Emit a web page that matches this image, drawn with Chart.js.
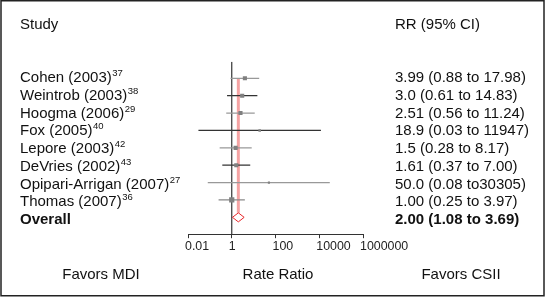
<!DOCTYPE html>
<html>
<head>
<meta charset="utf-8">
<script src="https://cdn.jsdelivr.net/npm/chart.js@4/dist/chart.umd.min.js"></script>
<style>
  html, body { margin: 0; padding: 0; background: #fff; }
  #forest { display: block; }
</style>
</head>
<body>
<canvas id="forest" width="545" height="297"></canvas>
<script>
// study data
const studies = ['Cohen (2003)', 'Weintrob (2003)', 'Hoogma (2006)', 'Fox (2005)',
  'Lepore (2003)', 'DeVries (2002)', 'Opipari-Arrigan (2007)', 'Thomas (2007)'];
const refs = ['37', '38', '29', '40', '42', '43', '27', '36'];
const rr = [3.99, 3.0, 2.51, 18.9, 1.5, 1.61, 50.0, 1.00];
const lower = [0.88, 0.61, 0.56, 0.03, 0.28, 0.37, 0.08, 0.25];
const upper = [17.98, 14.83, 11.24, 11947, 8.17, 7.00, 30305, 3.97];
const rrLabels = ['3.99 (0.88 to 17.98)', '3.0 (0.61 to 14.83)', '2.51 (0.56 to 11.24)',
  '18.9 (0.03 to 11947)', '1.5 (0.28 to 8.17)', '1.61 (0.37 to 7.00)',
  '50.0 (0.08 to30305)', '1.00 (0.25 to 3.97)'];
const overallRR = 2.00;
const overallLow = 1.08;
const overallHigh = 3.69;
const overallLabel = '2.00 (1.08 to 3.69)';
const tickValues = [0.01, 1, 100, 10000, 1000000];
const tickLabels = ['0.01', '1', '100', '10000', '1000000'];

// styling
const markerRadius = [2.9, 2.9, 2.9, 1.8, 2.9, 2.9, 1.5, 3.7];
const ciColors = ['#999', '#333', '#999', '#333', '#999', '#333', '#999', '#888'];
const FONT = '"Liberation Sans", Arial, sans-serif';
const overallRow = studies.length;

const datasets = [];

// null line at RR = 1
datasets.push({
  type: 'line',
  data: [{ x: 1, y: -0.95 }, { x: 1, y: 8.97 }],
  borderColor: '#333',
  borderWidth: 1.2,
  pointRadius: 0,
  order: 5,
});

// overall estimate line
datasets.push({
  type: 'line',
  data: [{ x: overallRR, y: 0 }, { x: overallRR, y: overallRow - 0.26 }],
  borderColor: '#f5a3a3',
  borderWidth: 3,
  pointRadius: 0,
  order: 4,
});

// confidence intervals
studies.forEach((s, i) => {
  datasets.push({
    type: 'line',
    data: [{ x: lower[i], y: i }, { x: upper[i], y: i }],
    borderColor: ciColors[i],
    borderWidth: 1.3,
    pointRadius: 0,
    order: 3,
  });
});

// point estimates
datasets.push({
  type: 'scatter',
  data: rr.map((v, i) => ({ x: v, y: i })),
  pointStyle: 'rect',
  pointRadius: markerRadius,
  backgroundColor: '#808080',
  borderColor: '#808080',
  borderWidth: 0,
  order: 2,
});

// overall diamond
datasets.push({
  type: 'line',
  data: [
    { x: overallLow, y: overallRow },
    { x: overallRR, y: overallRow - 0.26 },
    { x: overallHigh, y: overallRow },
    { x: overallRR, y: overallRow + 0.26 },
    { x: overallLow, y: overallRow },
  ],
  borderColor: '#e8262a',
  fill: false,
  borderWidth: 1,
  pointRadius: 0,
  tension: 0,
  order: 1,
});

const textPlugin = {
  id: 'forestText',
  afterDraw(chart) {
    const ctx = chart.ctx;
    const y = chart.scales.y;
    ctx.save();
    ctx.fillStyle = '#111';
    ctx.textBaseline = 'middle';
    ctx.textAlign = 'left';

    ctx.font = '15px ' + FONT;
    ctx.fillText('Study', 20, 25);
    ctx.fillText('RR (95% CI)', 395, 25);

    studies.forEach((s, i) => {
      const py = y.getPixelForValue(i) + 0.3 * i;
      ctx.font = '15px ' + FONT;
      ctx.fillText(s, 20, py);
      const w = ctx.measureText(s).width;
      ctx.font = '9.5px ' + FONT;
      ctx.fillText(refs[i], 20 + w + 0.5, py - 4.5);
      ctx.font = '15px ' + FONT;
      ctx.fillText(rrLabels[i], 395, py);
    });

    const oy = y.getPixelForValue(overallRow) + 0.3 * overallRow;
    ctx.font = 'bold 15px ' + FONT;
    ctx.fillText('Overall', 20, oy);
    ctx.fillText(overallLabel, 395, oy);

    ctx.font = '15px ' + FONT;
    ctx.textAlign = 'center';
    ctx.fillText('Favors MDI', 101, 275);
    ctx.fillText('Rate Ratio', 278, 275);
    ctx.fillText('Favors CSII', 461, 275);

    // frame
    ctx.strokeStyle = '#222';
    ctx.lineWidth = 1.5;
    ctx.strokeRect(1, 0.75, 543, 295);
    ctx.restore();
  },
};

new Chart(document.getElementById('forest'), {
  type: 'scatter',
  data: { datasets },
  options: {
    responsive: false,
    animation: false,
    devicePixelRatio: 1,
    layout: {
      padding: { left: 188, right: 182, top: 61.8, bottom: 41 },
    },
    plugins: {
      legend: { display: false },
      tooltip: { enabled: false },
    },
    scales: {
      x: {
        type: 'logarithmic',
        min: 0.01,
        max: 1000000,
        afterBuildTicks(scale) {
          scale.ticks = tickValues.map((v) => ({ value: v }));
        },
        afterFit(scale) {
          scale.height = 21.8;
        },
        grid: {
          display: true,
          drawOnChartArea: false,
          drawTicks: true,
          tickLength: 4,
          color: '#333',
        },
        border: { display: true, color: '#333', width: 1 },
        ticks: {
          align: 'start',
          labelOffset: -3,
          padding: 1,
          autoSkip: false,
          maxRotation: 0,
          minRotation: 0,
          color: '#222',
          font: { family: FONT, size: 12.4 },
          callback: (v, i) => tickLabels[i],
        },
      },
      y: {
        type: 'linear',
        min: -0.95,
        max: 8.97,
        reverse: true,
        display: false,
      },
    },
  },
  plugins: [textPlugin],
});
</script>
</body>
</html>
